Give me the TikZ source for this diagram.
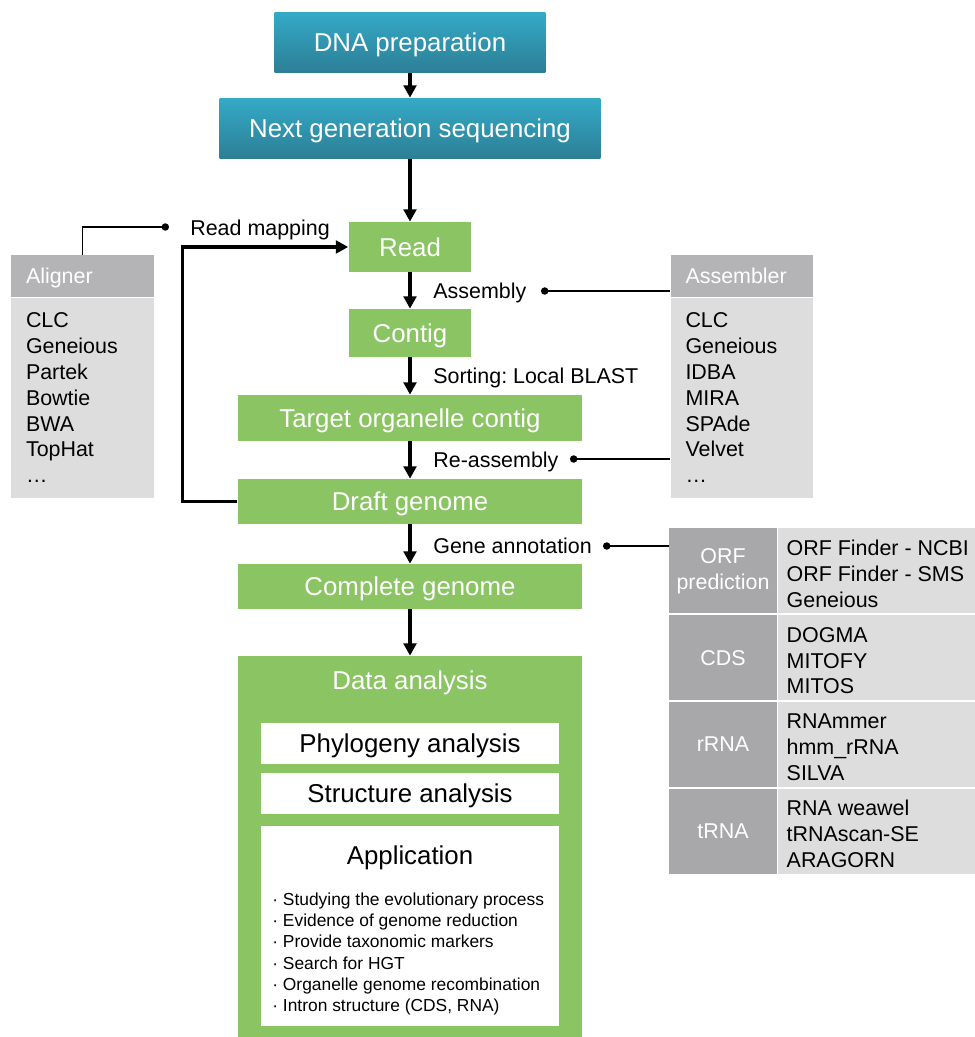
\documentclass[tikz,border=0pt]{standalone}
\usepackage{fontspec}
\setmainfont{Liberation Sans}
\usetikzlibrary{positioning,arrows.meta}
\frenchspacing

\definecolor{leafgreen}{RGB}{139,197,99}
\definecolor{tealtop}{RGB}{52,170,199}
\definecolor{tealbottom}{RGB}{45,126,149}
\definecolor{headgray}{RGB}{180,180,182}
\definecolor{colgray}{RGB}{168,168,170}
\definecolor{bodygray}{RGB}{221,221,221}

\newcommand{\boxfont}{\fontsize{14.7}{17.6}\selectfont}
\newcommand{\toolfont}{\fontsize{12.2}{14.74}\selectfont}
\newcommand{\bulletfont}{\fontsize{9.9}{12.13}\selectfont}

\begin{document}
\begin{tikzpicture}[x=0.02cm, y=-0.02cm,
    seqbox/.style={top color=tealtop, bottom color=tealbottom, text=white, font=\boxfont, minimum height=1.22cm, text height=10.5pt, text depth=0pt, inner sep=0pt},
    stepbox/.style={fill=leafgreen, text=white, font=\boxfont, minimum width=6.9cm, text height=10.5pt, text depth=0pt, inner sep=0pt},
    wbox/.style={fill=white, font=\boxfont, minimum width=5.98cm, text height=10.5pt, text depth=0pt, inner sep=0pt},
    btext/.style={font=\boxfont, text height=10.5pt, text depth=0pt, inner sep=0pt},
    flow/.style={line width=1.8pt, -{Triangle[length=7pt,width=7.2pt]}},
    pin/.style={line width=0.75pt, {Circle[length=4.2pt]}-},
    lbl/.style={font=\toolfont, anchor=west, inner sep=0pt, text height=8.7pt, text depth=0pt},
    listhead/.style={fill=headgray, text=white, font=\toolfont, minimum height=0.84cm, text width=2.26cm, inner xsep=0.3cm, inner ysep=0pt, align=left, text height=8.7pt, text depth=0pt},
    listbody/.style={fill=bodygray, font=\toolfont, minimum height=4cm, text width=2.26cm, inner xsep=0.3cm, inner ysep=0pt, align=left},
    rowhead/.style={fill=colgray, text=white, font=\toolfont, minimum width=2.16cm, minimum height=1.72cm, inner sep=0pt, align=center},
    rowcell/.style={fill=bodygray, minimum width=3.94cm, minimum height=1.72cm, inner sep=0pt},
    tools/.style={font=\toolfont, anchor=west, align=left, inner sep=0pt},
    sep/.style={white, line width=1.2pt}]

    \useasboundingbox (0,0) rectangle (974,1037);

    % pipeline
    \node[seqbox, minimum width=5.42cm] (dna) at (410,42.5) {DNA preparation};
    \node[seqbox, minimum width=7.62cm] (ngs) at (410,128.5) {Next generation sequencing};
    \node[stepbox, minimum width=2.46cm, minimum height=1cm] (read) at (410,247) {Read};
    \node[stepbox, minimum width=2.46cm, minimum height=0.96cm] (contig) at (410,333) {Contig};
    \node[stepbox, minimum height=0.92cm] (target) at (410,418) {Target organelle contig};
    \node[stepbox, minimum height=0.9cm] (draft) at (410,501.5) {Draft genome};
    \node[stepbox, minimum height=0.9cm] (complete) at (410,586.5) {Complete genome};
    \node[stepbox, minimum height=7.62cm] (data) at (410,846.5) {};
    \node[btext, text=white] (datahead) at (410,680) {Data analysis};
    \node[wbox, minimum height=0.82cm] (phylo) at (410,743) {Phylogeny analysis};
    \node[wbox, minimum height=0.82cm] (struct) at (410,793.5) {Structure analysis};
    \node[wbox, minimum height=4cm] (app) at (410,926) {};
    \node[btext] (apphead) at (410,855) {Application};
    \node[tools, font=\bulletfont] (uses) at (272,954) {· Studying the evolutionary process\\· Evidence of genome reduction\\· Provide taxonomic markers\\· Search for HGT\\· Organelle genome recombination\\· Intron structure (CDS, RNA)};

    \draw[flow] (dna) -- (ngs);
    \draw[flow] (ngs) -- (read);
    \draw[flow] (read) -- (contig);
    \draw[flow] (contig) -- (target);
    \draw[flow] (target) -- (draft);
    \draw[flow] (draft) -- (complete);
    \draw[flow] (complete) -- (data);
    \draw[flow] (draft.west) -- ++(-55,0) |- (read.west);

    % step labels
    \node[lbl] (mapping) at (190,228) {Read mapping};
    \node[lbl] (assembly) at (433,291) {Assembly};
    \node[lbl] (sorting) at (433,375.5) {Sorting: Local BLAST};
    \node[lbl] (reassembly) at (433,460) {Re-assembly};
    \node[lbl] (annotation) at (433,546) {Gene annotation};

    % tool lists
    \node[listhead] (alhead) at (82.5,276) {Aligner};
    \node[listbody, below=0pt of alhead] (albody) {CLC\\Geneious\\Partek\\Bowtie\\BWA\\TopHat\\…};
    \node[listhead] (ashead) at (742,276) {Assembler};
    \node[listbody, below=0pt of ashead] (asbody) {CLC\\Geneious\\IDBA\\MIRA\\SPAde\\Velvet\\…};

    \node[rowhead] (orf) at (723,571) {ORF\\prediction};
    \node[rowcell, right=0pt of orf] (orfcell) {};
    \node[rowhead, below=0pt of orf] (cds) {CDS};
    \node[rowcell, right=0pt of cds] (cdscell) {};
    \node[rowhead, below=0pt of cds] (rrna) {rRNA};
    \node[rowcell, right=0pt of rrna] (rrnacell) {};
    \node[rowhead, below=0pt of rrna] (trna) {tRNA};
    \node[rowcell, right=0pt of trna] (trnacell) {};
    \draw[sep] (orf.south west) -- (orfcell.south east);
    \draw[sep] (cds.south west) -- (cdscell.south east);
    \draw[sep] (rrna.south west) -- (rrnacell.south east);
    \node[tools] (orftools) at ([xshift=0.18cm,yshift=-0.06cm]orfcell.west) {ORF Finder - NCBI\\ORF Finder - SMS\\Geneious};
    \node[tools] (cdstools) at ([xshift=0.18cm,yshift=-0.06cm]cdscell.west) {DOGMA\\MITOFY\\MITOS};
    \node[tools] (rrnatools) at ([xshift=0.18cm,yshift=-0.06cm]rrnacell.west) {RNAmmer\\hmm\_rRNA\\SILVA};
    \node[tools] (trnatools) at ([xshift=0.18cm,yshift=-0.06cm]trnacell.west) {RNA weawel\\tRNAscan-SE\\ARAGORN};

    % pins
    \coordinate (mapdot) at (169,227);
    \coordinate (asmdot) at (541,291);
    \coordinate (reasmdot) at (570,459);
    \coordinate (annodot) at (603,546);
    \draw[pin] (mapdot) -| (alhead.north);
    \draw[pin] (asmdot) -- (asmdot -| ashead.west);
    \draw[pin] (reasmdot) -- (reasmdot -| asbody.west);
    \draw[pin] (annodot) -- (annodot -| orf.west);
\end{tikzpicture}
\end{document}
